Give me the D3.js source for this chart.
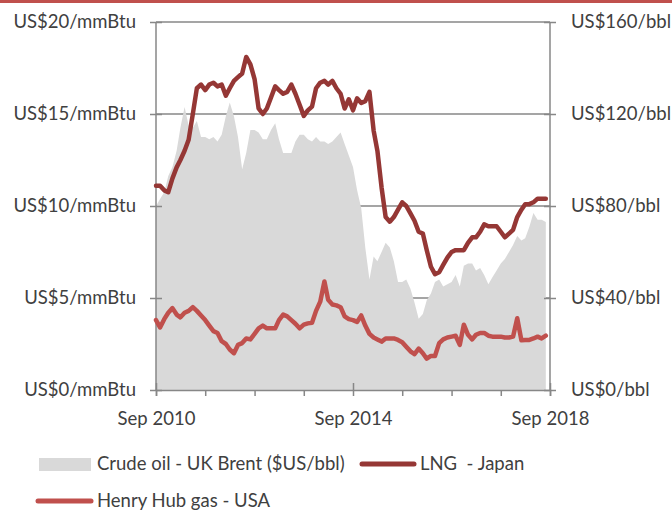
<!DOCTYPE html>
<html>
<head>
<meta charset="utf-8">
<script src="https://cdn.jsdelivr.net/npm/d3@7"></script>
<style>
  body { margin: 0; background: #fff; }
  text { font-family: Lato, "Open Sans", sans-serif; fill: #404040; }
</style>
</head>
<body>
<div id="chart"></div>
<script>
// monthly, Sep 2010 .. Aug 2018
var startMonth = new Date(2010, 8, 1);

var brent = [80, 83, 86, 93, 97, 104, 114, 123, 115, 114, 117, 110,
  110, 109, 110, 108, 111, 119, 125, 119, 110, 96, 103, 113,
  113, 112, 109, 109, 113, 116, 109, 103, 103, 103, 108, 111,
  111, 109, 108, 110, 108, 108, 107, 108, 110, 112, 107, 102,
  97, 87, 79, 62, 48, 58, 56, 60, 64, 62, 56, 47,
  47, 48, 44, 38, 31, 33, 39, 42, 47, 48, 45, 46,
  47, 50, 45, 54, 55, 55, 52, 53, 50, 46, 49, 52,
  55, 57, 60, 63, 67, 65, 66, 71, 77, 74, 74, 73];

var lngJapan = [11.1, 11.1, 10.85, 10.75, 11.5, 12.1, 12.5, 13.0, 13.6, 15.0, 16.4, 16.6,
  16.3, 16.6, 16.7, 16.5, 16.6, 16.0, 16.4, 16.8, 17.0, 17.2, 18.1, 17.7,
  16.9, 15.3, 15.0, 15.3, 15.9, 16.5, 16.3, 16.1, 16.2, 16.6, 16.1, 15.5,
  14.9, 15.2, 15.4, 16.4, 16.7, 16.8, 16.6, 16.8, 16.4, 16.1, 15.3, 15.8,
  15.2, 15.85, 15.6, 15.7, 16.2, 14.1, 13.0, 11.0, 9.4, 9.15, 9.4, 9.8,
  10.2, 10.0, 9.6, 9.2, 8.6, 8.5, 7.6, 6.7, 6.3, 6.4, 6.8, 7.2,
  7.5, 7.6, 7.6, 7.6, 8.0, 8.3, 8.3, 8.6, 9.0, 8.9, 8.9, 8.9,
  8.6, 8.3, 8.5, 8.7, 9.4, 9.8, 10.1, 10.1, 10.2, 10.4, 10.4, 10.4];

var henryHub = [3.8, 3.4, 3.85, 4.2, 4.45, 4.1, 3.95, 4.2, 4.3, 4.5, 4.3, 4.05,
  3.8, 3.5, 3.2, 3.1, 2.65, 2.5, 2.2, 2.0, 2.45, 2.55, 2.8, 2.75,
  3.05, 3.35, 3.5, 3.35, 3.35, 3.35, 3.8, 4.1, 4.0, 3.8, 3.6, 3.35,
  3.55, 3.62, 3.65, 4.3, 4.8, 5.9, 4.9, 4.65, 4.6, 4.5, 4.0, 3.85,
  3.8, 3.7, 4.05, 3.5, 3.05, 2.85, 2.75, 2.63, 2.8, 2.8, 2.8, 2.72,
  2.6, 2.35, 2.1, 1.95, 2.25, 2.0, 1.7, 1.85, 1.85, 2.55, 2.75, 2.85,
  2.9, 2.95, 2.45, 3.55, 3.0, 2.75, 3.0, 3.1, 3.1, 2.95, 2.9, 2.9,
  2.9, 2.85, 2.85, 2.9, 3.9, 2.7, 2.72, 2.72, 2.8, 2.9, 2.8, 2.95];

var leftTicks = [0, 5, 10, 15, 20];
var leftLabels = ["US$0/mmBtu", "US$5/mmBtu", "US$10/mmBtu", "US$15/mmBtu", "US$20/mmBtu"];
var rightTicks = [0, 40, 80, 120, 160];
var rightLabels = ["US$0/bbl", "US$40/bbl", "US$80/bbl", "US$120/bbl", "US$160/bbl"];
var xTickMonths = [0, 12, 24, 36, 48, 60, 72, 84, 96];
var xLabelMonths = [0, 48, 96];
var xLabels = ["Sep 2010", "Sep 2014", "Sep 2018"];

var width = 672, height = 513;
var margin = {top: 22, right: 122, bottom: 123, left: 156};
var fontSize = '18.5px';

var svg = d3.select('#chart')
  .append('svg')
  .attr('width', width)
  .attr('height', height);

var monthDate = function (i) { return d3.timeMonth.offset(startMonth, i); };

var x = d3.scaleTime()
  .domain([startMonth, monthDate(96)])
  .range([margin.left, width - margin.right]);
var yLeft = d3.scaleLinear().domain([0, 20]).range([height - margin.bottom, margin.top]);
var yRight = d3.scaleLinear().domain([0, 160]).range([height - margin.bottom, margin.top]);

var axisCol = '#878787';

// red strip on top
svg.append('rect').attr('x', 0).attr('y', 0).attr('width', width).attr('height', 3).attr('fill', '#c0504d');

// gridlines
svg.append('g').selectAll('line')
  .data(leftTicks.slice(1))
  .enter().append('line')
  .attr('x1', x.range()[0]).attr('x2', x.range()[1])
  .attr('y1', function (d) { return yLeft(d); })
  .attr('y2', function (d) { return yLeft(d); })
  .attr('stroke', axisCol).attr('stroke-width', 1.5);

// brent area
var area = d3.area()
  .x(function (d, i) { return x(monthDate(i)); })
  .y0(yRight(0))
  .y1(function (d) { return yRight(d); });

svg.append('path').datum(brent)
  .attr('d', area)
  .attr('fill', '#d9d9d9');

// axes
var gL = svg.append('g').attr('transform', 'translate(' + x.range()[0] + ',0)')
  .call(d3.axisLeft(yLeft).tickValues(leftTicks).tickSize(6)
    .tickFormat(function (d, i) { return leftLabels[i]; }).tickPadding(14));
var gR = svg.append('g').attr('transform', 'translate(' + x.range()[1] + ',0)')
  .call(d3.axisRight(yRight).tickValues(rightTicks).tickSize(6)
    .tickFormat(function (d, i) { return rightLabels[i]; }).tickPadding(15));
var gB = svg.append('g').attr('transform', 'translate(0,' + yLeft(0) + ')')
  .call(d3.axisBottom(x).tickValues(xTickMonths.map(monthDate)).tickSize(6)
    .tickFormat(function (d, i) {
      var k = xLabelMonths.indexOf(xTickMonths[i]);
      return k < 0 ? '' : xLabels[k];
    }).tickPadding(16));

[gL, gR, gB].forEach(function (g) {
  g.select('.domain').attr('stroke', axisCol).attr('stroke-width', 1.5);
  g.selectAll('.tick line').attr('stroke', axisCol).attr('stroke-width', 1.5);
  g.selectAll('text').style('font-size', fontSize).attr('fill', '#404040');
});
// cross ticks on the value axes
gL.selectAll('.tick line').attr('x1', 6);
gR.selectAll('.tick line').attr('x1', -6);
gB.selectAll('.tick').filter(function (d, i) { return xLabelMonths.indexOf(xTickMonths[i]) >= 0; })
  .select('line').attr('y1', -7);
gL.select('.domain').attr('d', 'M0,' + yLeft(20) + 'V' + yLeft(0));
gR.select('.domain').attr('d', 'M0,' + yRight(160) + 'V' + yRight(0));

// lines
var lineL = d3.line()
  .x(function (d, i) { return x(monthDate(i)); })
  .y(function (d) { return yLeft(d); });

svg.append('path').datum(henryHub)
  .attr('d', lineL).attr('fill', 'none')
  .attr('stroke', '#c0504d').attr('stroke-width', 4.5)
  .attr('stroke-linejoin', 'round').attr('stroke-linecap', 'round');

svg.append('path').datum(lngJapan)
  .attr('d', lineL).attr('fill', 'none')
  .attr('stroke', '#953735').attr('stroke-width', 4.5)
  .attr('stroke-linejoin', 'round').attr('stroke-linecap', 'round');

// legend
var leg = svg.append('g').style('font-size', fontSize);
leg.append('rect').attr('x', 39).attr('y', 458).attr('width', 52).attr('height', 13).attr('fill', '#d9d9d9');
leg.append('text').attr('x', 97).attr('y', 464).attr('dy', '0.35em').text('Crude oil - UK Brent ($US/bbl)');
leg.append('line').attr('x1', 362).attr('x2', 414).attr('y1', 464).attr('y2', 464)
  .attr('stroke', '#953735').attr('stroke-width', 5).attr('stroke-linecap', 'round');
leg.append('text').attr('x', 420).attr('y', 464).attr('dy', '0.35em')
  .style('white-space', 'pre').text('LNG  - Japan');
leg.append('line').attr('x1', 38).attr('x2', 91).attr('y1', 501).attr('y2', 501)
  .attr('stroke', '#c0504d').attr('stroke-width', 5).attr('stroke-linecap', 'round');
leg.append('text').attr('x', 97).attr('y', 501).attr('dy', '0.35em').text('Henry Hub gas - USA');
</script>
</body>
</html>
